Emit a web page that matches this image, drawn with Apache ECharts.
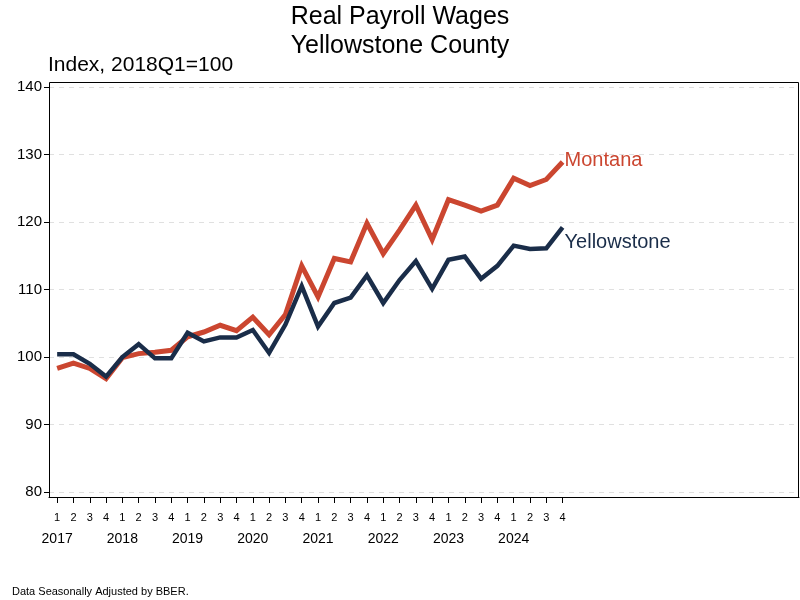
<!DOCTYPE html>
<html>
<head>
<meta charset="utf-8">
<script src="https://cdn.jsdelivr.net/npm/echarts@6/dist/echarts.min.js"></script>
<style>html,body{margin:0;padding:0;background:#fff;}#c{width:800px;height:600px;}</style>
</head>
<body>
<div id="c"></div>
<script>
var years = ['2017','2018','2019','2020','2021','2022','2023','2024'];
var quarters = ['1','2','3','4'];
var montana = [98.3, 99.1, 98.3, 96.8, 99.9, 100.5, 100.7, 101.0,
               103.0, 103.7, 104.7, 103.9, 105.9, 103.3, 106.3, 113.5,
               108.9, 114.6, 114.1, 119.8, 115.3, 118.8, 122.5, 117.4,
               123.3, 122.5, 121.6, 122.5, 126.5, 125.4, 126.3, 128.9];
var yellowstone = [100.4, 100.4, 99.0, 97.1, 100.0, 101.9, 99.8, 99.8,
                   103.6, 102.3, 102.9, 102.9, 104.0, 100.6, 104.8, 110.5,
                   104.5, 108.0, 108.8, 112.1, 108.0, 111.4, 114.2, 110.1,
                   114.4, 114.9, 111.6, 113.5, 116.5, 116.0, 116.1, 119.2];
var yTicks = [80, 90, 100, 110, 120, 130, 140];
var seriesNames = ['Montana', 'Yellowstone'];

var FONT = '"Liberation Sans", Arial, sans-serif';
var nData = montana.length;
var nSlots = 46; // axis extends beyond the last quarter
var cats = [];
years.forEach(function (y) { quarters.forEach(function (q) { cats.push(y + '|' + q); }); });
for (var k = cats.length; k < nSlots; k++) cats.push('pad' + k);

var G = { left: 49, right: 1, top: 87, bottom: 108 };
var PAD = 5; // frame padding around the value range

var chart = echarts.init(document.getElementById('c'));
chart.setOption({
  animation: false,
  backgroundColor: '#fff',
  textStyle: { fontFamily: FONT },
  title: [
    { text: 'Real Payroll Wages\nYellowstone County', left: 'center', top: -2,
      textStyle: { fontSize: 25, fontWeight: 'normal', color: '#000', lineHeight: 29, fontFamily: FONT } },
    { text: 'Data Seasonally Adjusted by BBER.', left: 12, bottom: 3, padding: 0,
      textStyle: { fontSize: 11, fontWeight: 'normal', color: '#000', fontFamily: FONT } }
  ],
  grid: { left: G.left, right: G.right, top: G.top, bottom: G.bottom },
  graphic: [
    { type: 'rect', silent: true, z: 10,
      shape: { x: G.left + 0.5, y: G.top - PAD + 0.5, width: 800 - G.left - G.right - 1, height: 600 - G.top - G.bottom + 2 * PAD },
      style: { fill: 'none', stroke: '#000', lineWidth: 1 } }
  ],
  xAxis: {
    type: 'category', data: cats, boundaryGap: true, offset: PAD,
    axisLine: { show: true, lineStyle: { color: '#000', width: 1 } },
    axisTick: { show: true, alignWithLabel: true, length: 6, lineStyle: { color: '#000' },
      interval: function (i) { return i < nData; } },
    axisLabel: {
      interval: 0, margin: 14, color: '#000',
      formatter: function (v) {
        if (v.indexOf('|') < 0) return '';
        var p = v.split('|');
        return p[1] === '1' ? '{q|' + p[1] + '}\n{y|' + p[0] + '}' : '{q|' + p[1] + '}';
      },
      rich: {
        q: { fontSize: 11, color: '#000', fontFamily: FONT, lineHeight: 13 },
        y: { fontSize: 14, color: '#000', fontFamily: FONT, lineHeight: 31 }
      }
    },
    splitLine: { show: false }
  },
  yAxis: {
    type: 'value', min: yTicks[0], max: yTicks[yTicks.length - 1], interval: 10,
    name: 'Index, 2018Q1=100', nameLocation: 'end', nameGap: 11,
    nameTextStyle: { fontSize: 21, color: '#000', align: 'left', fontFamily: FONT, padding: [0, 0, 0, -1] },
    axisLine: { show: true, lineStyle: { color: '#000', width: 1 } },
    axisTick: { show: true, length: 5, lineStyle: { color: '#000' } },
    axisLabel: { fontSize: 15, color: '#000', margin: 7, fontFamily: FONT },
    splitLine: { show: true, lineStyle: { color: '#e0e0e0', type: [5, 5], width: 1 } }
  },
  series: [
    { name: seriesNames[0], type: 'line', data: montana, showSymbol: false, symbol: 'none',
      lineStyle: { color: '#CB4630', width: 5, join: 'miter' }, itemStyle: { color: '#CB4630' }, z: 2,
      endLabel: { show: true, formatter: seriesNames[0], fontSize: 20, color: '#CB4630', distance: 2, offset: [0, -1], fontFamily: FONT } },
    { name: seriesNames[1], type: 'line', data: yellowstone, showSymbol: false, symbol: 'none',
      lineStyle: { color: '#1A2D49', width: 4.5, join: 'miter' }, itemStyle: { color: '#1A2D49' }, z: 3,
      endLabel: { show: true, formatter: seriesNames[1], fontSize: 20, color: '#1A2D49', distance: 2, offset: [0, 15], fontFamily: FONT } }
  ]
});
</script>
</body>
</html>
